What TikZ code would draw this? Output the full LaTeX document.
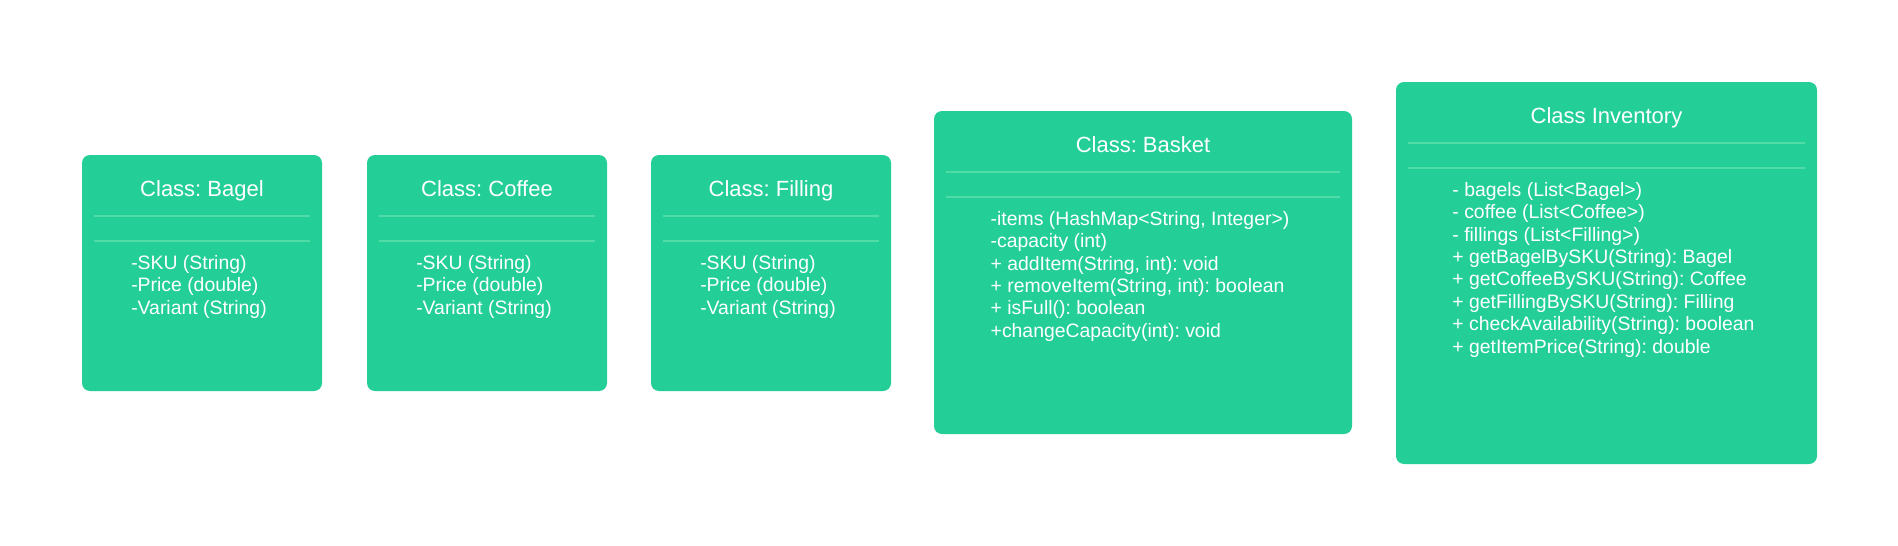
\documentclass[tikz,border=0pt]{standalone}
\usepackage{fontspec}
\setmainfont{Liberation Sans}
\usetikzlibrary{calc}
\frenchspacing
\definecolor{boxgreen}{RGB}{35,207,151}
\definecolor{sepgreen}{RGB}{80,219,167}
\tikzset{
  classbox/.style={fill=boxgreen, draw=none, rounded corners=8pt, inner sep=0pt, outer sep=0pt},
  titletext/.style={text=white, font=\fontsize{22}{26}\selectfont\frenchspacing, anchor=base, inner sep=0pt},
  bodytext/.style={text=white, font=\fontsize{19.4}{22.4}\selectfont\frenchspacing, align=left, anchor=north, inner sep=0pt},
  sepline/.style={draw=sepgreen, line width=1.1pt},
}
\newcommand\umlclass[7]{% name, x, y, width, height, title, body
  \node[classbox, minimum width=#4pt, minimum height=#5pt, anchor=north west] (#1) at (#2,#3) {};
  \node[titletext] (#1-title) at ($(#1.north)+(0,41.7)$) {#6};
  \draw[sepline] ($(#1.north west)+(12,61)$) -- ($(#1.north east)+(-12,61)$);
  \draw[sepline] ($(#1.north west)+(12,86)$) -- ($(#1.north east)+(-12,86)$);
  \node[bodytext] (#1-body) at ($(#1.north)+(-3,99)$) {\rule{0pt}{15pt}#7};
}
\begin{document}
\begin{tikzpicture}[x=1pt,y=-1pt]
\useasboundingbox[fill=white] (0,0) rectangle (1898,546);
\umlclass{bagel}{82}{155}{240}{236}{Class: Bagel}{-SKU (String)\\-Price (double)\\-Variant (String)}
\umlclass{coffee}{367}{155}{240}{236}{Class: Coffee}{-SKU (String)\\-Price (double)\\-Variant (String)}
\umlclass{filling}{651}{155}{240}{236}{Class: Filling}{-SKU (String)\\-Price (double)\\-Variant (String)}
\umlclass{basket}{934}{111}{418}{323}{Class: Basket}{-items (HashMap<String, Integer>)\\-capacity (int)\\+ addItem(String, int): void\\+ removeItem(String, int): boolean\\+ isFull(): boolean\\+changeCapacity(int): void}
\umlclass{inventory}{1396}{82}{421}{382}{Class Inventory}{- bagels (List<Bagel>)\\- coffee (List<Coffee>)\\- fillings (List<Filling>)\\+ getBagelBySKU(String): Bagel\\+ getCoffeeBySKU(String): Coffee\\+ getFillingBySKU(String): Filling\\+ checkAvailability(String): boolean\\+ getItemPrice(String): double}
\end{tikzpicture}
\end{document}
